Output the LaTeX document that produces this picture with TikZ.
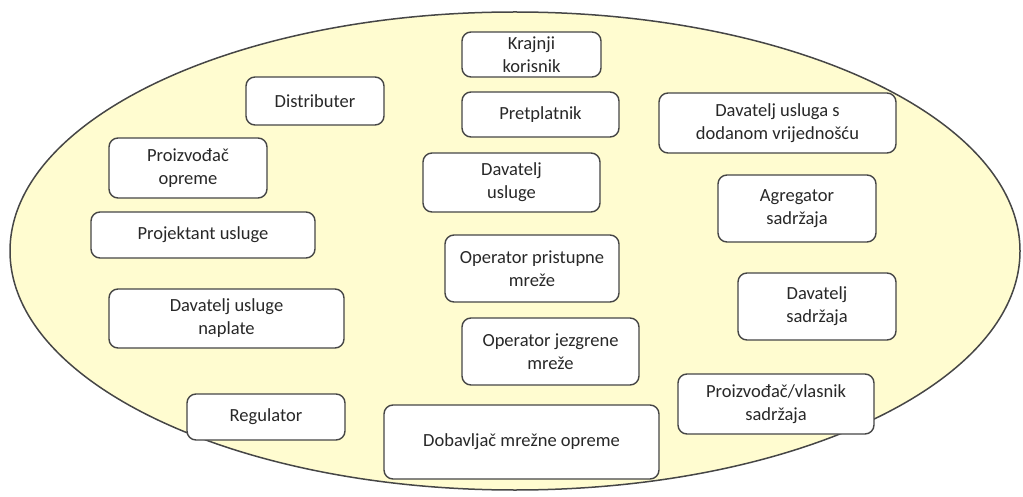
\documentclass[tikz,border=0pt]{standalone}
\usepackage{fontspec}
\setmainfont{Carlito}
\usepackage{xcolor}
\usetikzlibrary{shapes,positioning,backgrounds}

\definecolor{pozadina}{RGB}{255,252,208}
\definecolor{rub}{RGB}{70,70,70}
\definecolor{tekst}{RGB}{40,40,40}

\tikzset{
    uloga/.style={draw=rub, line width=1.4pt, fill=white, rounded corners=9pt,
        align=center, text=tekst, inner sep=2pt,
        font=\fontsize{18.5}{23}\selectfont},
    oblak/.style={draw=rub, line width=1.5pt, fill=pozadina}
}

\begin{document}
\begin{tikzpicture}[x=1pt,y=-1pt]
    \useasboundingbox (0,0) rectangle (1023,497);

    % Ellipse with all roles
    \node[oblak, ellipse, minimum width=1010pt, minimum height=478pt] (okvir) at (515,251) {};

    % Middle column
    \node[uloga, minimum width=139pt, minimum height=45pt] (korisnik) at (531.5,54.5) {Krajnji\\korisnik};
    \node[uloga, minimum width=157pt, minimum height=45pt] (pretplatnik) at (540.5,114.5) {Pretplatnik};
    \node[uloga, minimum width=177pt, minimum height=59pt] (davusluge) at (511.5,182.5) {Davatelj\\usluge};
    \node[uloga, minimum width=174pt, minimum height=67pt] (pristupna) at (532,268.5) {Operator pristupne\\mreže};
    \node[uloga, minimum width=177pt, minimum height=67pt] (jezgrena) at (550.5,351.5) {Operator jezgrene\\mreže};
    \node[uloga, minimum width=275pt, minimum height=74pt] (dobavljac) at (521.5,442) {Dobavljač mrežne opreme};

    % Left side
    \node[uloga, minimum width=138pt, minimum height=48pt] (distributer) at (315,101) {Distributer};
    \node[uloga, minimum width=158pt, minimum height=60pt] (oprema) at (188,168) {Proizvođač\\opreme};
    \node[uloga, minimum width=224pt, minimum height=46pt] (projektant) at (203,235) {Projektant usluge};
    \node[uloga, minimum width=235pt, minimum height=59pt] (naplata) at (226.5,318.5) {Davatelj usluge\\naplate};
    \node[uloga, minimum width=158pt, minimum height=46pt] (regulator) at (266,417) {Regulator};

    % Right side
    \node[uloga, minimum width=237pt, minimum height=60pt] (dodana) at (777.5,123) {Davatelj usluga s\\dodanom vrijednošću};
    \node[uloga, minimum width=158pt, minimum height=67pt] (agregator) at (797,208.5) {Agregator\\sadržaja};
    \node[uloga, minimum width=158pt, minimum height=67pt] (davsadrzaja) at (817,306.5) {Davatelj\\sadržaja};
    \node[uloga, minimum width=196pt, minimum height=60pt] (vlasnik) at (776,404) {Proizvođač/vlasnik\\sadržaja};
\end{tikzpicture}
\end{document}
